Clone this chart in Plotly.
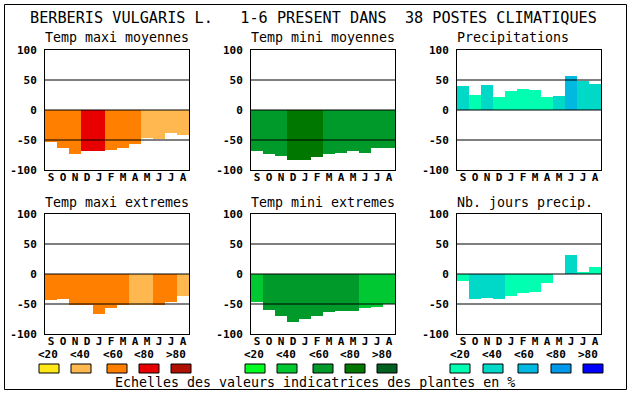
import plotly.graph_objects as go

# ---------------- data ----------------
months = ["S", "O", "N", "D", "J", "F", "M", "A", "M", "J", "J", "A"]
main_title = "BERBERIS VULGARIS L.   1-6 PRESENT DANS  38 POSTES CLIMATIQUES"
panel_titles = ["Temp maxi moyennes", "Temp mini moyennes", "Precipitations",
                "Temp maxi extremes", "Temp mini extremes", "Nb. jours precip."]
footer = "Echelles des valeurs indicatrices des plantes en %"
class_labels = ["&lt;20", "&lt;40", "&lt;60", "&lt;80", "&gt;80"]
y_ticks = [-100, -50, 0, 50, 100]
y_ticktext = ["-100", "-50", "0", "50", "100"]

tmax_moy = [-54, -63, -73, -68, -68, -66, -64, -56, -46, -48, -38, -41]
tmax_moy_cls = [3, 3, 3, 4, 4, 3, 3, 3, 2, 2, 2, 2]
tmin_moy = [-68, -73, -76, -83, -83, -78, -74, -71, -68, -71, -64, -64]
tmin_moy_cls = [3, 3, 3, 4, 4, 4, 3, 3, 3, 3, 3, 3]
precip = [40, 25, 42, 22, 32, 35, 33, 22, 23, 57, 48, 44]
precip_cls = [2, 1, 2, 1, 1, 1, 1, 1, 2, 3, 2, 2]
tmax_ext = [-44, -42, -52, -52, -67, -57, -52, -52, -51, -52, -46, -37]
tmax_ext_cls = [3, 3, 3, 3, 3, 3, 3, 2, 2, 3, 3, 2]
tmin_ext = [-47, -60, -70, -80, -75, -70, -64, -62, -62, -57, -55, -50]
tmin_ext_cls = [2, 3, 3, 3, 3, 3, 3, 3, 3, 2, 2, 2]
jours = [-12, -42, -40, -42, -37, -32, -30, -15, 0, 32, 4, 12]
jours_cls = [1, 2, 2, 2, 1, 1, 1, 1, 1, 2, 1, 1]

# ---------------- styles ----------------
warm = ["#FFE818", "#FFB850", "#FF8000", "#E80000", "#B01000"]
green = ["#00FF20", "#00C832", "#009A2A", "#007800", "#006020"]
blue = ["#00FFB0", "#00D8C8", "#00B8E0", "#0098E8", "#0000FF"]
palettes = [warm, green, blue]

W, H = 630, 394
def px(x):
    return x / W
def py(y):
    return 1 - y / H

col_x = [(45, 189), (251, 395), (457, 601)]
row_y = [(50, 170), (214, 334)]

series = [(tmax_moy, tmax_moy_cls, warm), (tmin_moy, tmin_moy_cls, green),
          (precip, precip_cls, blue), (tmax_ext, tmax_ext_cls, warm),
          (tmin_ext, tmin_ext_cls, green), (jours, jours_cls, blue)]

MONO = "DejaVu Sans Mono"
fig = go.Figure()
shapes = []
annotations = []
layout = {}

for i, (vals, cls, pal) in enumerate(series):
    r, c = divmod(i, 3)
    n = "" if i == 0 else str(i + 1)
    xa, ya = "x" + n, "y" + n
    fig.add_trace(go.Bar(
        x=list(range(len(months))), y=vals,
        marker=dict(color=[pal[k - 1] for k in cls], line=dict(width=0)),
        xaxis=xa, yaxis=ya, showlegend=False, hoverinfo="skip"))
    x0, x1 = col_x[c]
    y0, y1 = row_y[r]
    layout["xaxis" + n] = dict(
        domain=[px(x0), px(x1)], anchor=ya, range=[-0.5, len(months) - 0.5],
        tickmode="array", tickvals=list(range(len(months))), ticktext=months,
        showgrid=False, zeroline=False, showline=True, mirror=True,
        linecolor="black", linewidth=1, ticks="", ticklabelstandoff=-3,
        tickfont=dict(family=MONO, size=11, color="black", weight="bold"),
        fixedrange=True, automargin=False)
    layout["yaxis" + n] = dict(
        domain=[py(y1), py(y0)], anchor=xa, range=[-100, 100],
        tickmode="array", tickvals=y_ticks, ticktext=y_ticktext,
        showgrid=False, zeroline=False, showline=True, mirror=True,
        linecolor="black", linewidth=1, ticks="", ticklabelstandoff=5,
        tickfont=dict(family=MONO, size=11, color="black", weight="bold"),
        fixedrange=True, automargin=False)
    for gv in (50, 0, -50):
        shapes.append(dict(type="line", xref=xa + " domain", yref=ya,
                           x0=0, x1=1, y0=gv, y1=gv,
                           line=dict(color="black", width=1), layer="above"))
    annotations.append(dict(text=panel_titles[i], xref="paper", yref="paper",
                            x=px(x0 - 2), y=py(y0 - 12), xanchor="left",
                            yanchor="middle", showarrow=False,
                            font=dict(family=MONO, size=13.3, color="black")))

# main title & footer
annotations.append(dict(text=main_title.replace(" ", "\u00a0"), xref="paper", yref="paper",
                        x=px(313), y=py(18), xanchor="center", yanchor="middle",
                        showarrow=False,
                        font=dict(family=MONO, size=15.2, color="black")))
annotations.append(dict(text=footer, xref="paper", yref="paper",
                        x=px(315), y=py(382), xanchor="center", yanchor="middle",
                        showarrow=False,
                        font=dict(family=MONO, size=13.3, color="black")))

# colour scale legend
sw_x = [[39, 71, 107, 139, 171], [245, 277, 313, 345, 377], [450, 483, 518, 551, 583]]
lab_x = [[48, 80, 113, 144, 176], [254, 286, 319, 350, 382], [460, 492, 524, 556, 588]]
for g, pal in enumerate(palettes):
    for k in range(5):
        shapes.append(dict(type="rect", xref="paper", yref="paper",
                           x0=px(sw_x[g][k]), x1=px(sw_x[g][k] + 20),
                           y0=py(373), y1=py(364), fillcolor=pal[k],
                           line=dict(color="black", width=1)))
        annotations.append(dict(text=class_labels[k], xref="paper", yref="paper",
                                x=px(lab_x[g][k]), y=py(354), xanchor="center",
                                yanchor="middle", showarrow=False,
                                font=dict(family=MONO, size=11, color="black",
                                          weight="bold")))

# outer frame
shapes.append(dict(type="rect", xref="paper", yref="paper",
                   x0=px(4.5), x1=px(626.5), y0=py(389.5), y1=py(4.5),
                   line=dict(color="black", width=1), fillcolor="rgba(0,0,0,0)"))

fig.update_layout(width=W, height=H, margin=dict(l=0, r=0, t=0, b=0, pad=0),
                  autosize=False,
                  paper_bgcolor="white", plot_bgcolor="white",
                  bargap=0, shapes=shapes, annotations=annotations, **layout)

fig.write_html("out.html", config={"displayModeBar": False},
               post_script="document.body.style.margin='0';"
                           "document.body.style.overflow='hidden';")
